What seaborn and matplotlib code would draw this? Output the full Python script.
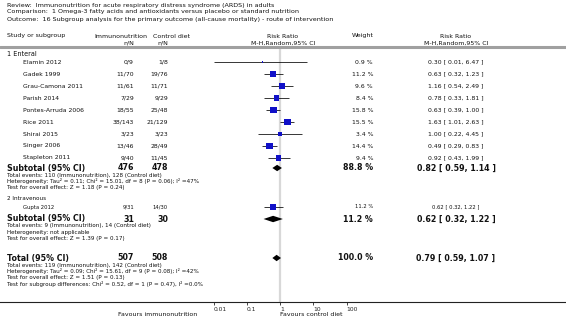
import numpy as np
import pandas as pd
import seaborn as sns
import matplotlib.pyplot as plt
from matplotlib.transforms import blended_transform_factory

sns.set_style("white")
plt.rcParams['font.family'] = ['DejaVu Sans']

# %% data
title_lines = [
    "Review:  Immunonutrition for acute respiratory distress syndrome (ARDS) in adults",
    "Comparison:  1 Omega-3 fatty acids and antioxidants versus placebo or standard nutrition",
    "Outcome:  16 Subgroup analysis for the primary outcome (all-cause mortality) - route of intervention",
]

enteral_studies = ["Elamin 2012", "Gadek 1999", "Grau-Camona 2011", "Parish 2014",
                   "Pontes-Arruda 2006", "Rice 2011", "Shirai 2015", "Singer 2006",
                   "Stapleton 2011"]
enteral_imm = ["0/9", "11/70", "11/61", "7/29", "18/55", "38/143", "3/23", "13/46", "9/40"]
enteral_ctrl = ["1/8", "19/76", "11/71", "9/29", "25/48", "21/129", "3/23", "28/49", "11/45"]
enteral_weight = [0.9, 11.2, 9.6, 8.4, 15.8, 15.5, 3.4, 14.4, 9.4]
enteral_rr = [0.30, 0.63, 1.16, 0.78, 0.63, 1.63, 1.00, 0.49, 0.92]
enteral_lo = [0.01, 0.32, 0.54, 0.33, 0.39, 1.01, 0.22, 0.29, 0.43]
enteral_hi = [6.47, 1.23, 2.49, 1.81, 1.00, 2.63, 4.45, 0.83, 1.99]

iv_studies = ["Gupta 2012"]
iv_imm = ["9/31"]
iv_ctrl = ["14/30"]
iv_weight = [11.2]
iv_rr = [0.62]
iv_lo = [0.32]
iv_hi = [1.22]

# subtotal 1, subtotal 2, total
pooled_label = ["Subtotal (95% CI)", "Subtotal (95% CI)", "Total (95% CI)"]
pooled_imm = [476, 31, 507]
pooled_ctrl = [478, 30, 508]
pooled_weight = [88.8, 11.2, 100.0]
pooled_rr = [0.82, 0.62, 0.79]
pooled_lo = [0.59, 0.32, 0.59]
pooled_hi = [1.14, 1.22, 1.07]

info_enteral = ["Total events: 110 (Immunonutrition), 128 (Control diet)",
                "Heterogeneity: Tau\u00b2 = 0.11; Chi\u00b2 = 15.01, df = 8 (P = 0.06); I\u00b2 =47%",
                "Test for overall effect: Z = 1.18 (P = 0.24)"]
info_iv = ["Total events: 9 (Immunonutrition), 14 (Control diet)",
           "Heterogeneity: not applicable",
           "Test for overall effect: Z = 1.39 (P = 0.17)"]
info_total = ["Total events: 119 (Immunonutrition), 142 (Control diet)",
              "Heterogeneity: Tau\u00b2 = 0.09; Chi\u00b2 = 15.61, df = 9 (P = 0.08); I\u00b2 =42%",
              "Test for overall effect: Z = 1.51 (P = 0.13)",
              "Test for subgroup differences: Chi\u00b2 = 0.52, df = 1 (P = 0.47), I\u00b2 =0.0%"]

ticks = [0.01, 0.1, 1, 10, 100]
tick_labels = ["0.01", "0.1", "1", "10", "100"]

# %% layout (pixels)
W, H = 566, 320
AX_TOP, AX_BOT = 46, 302
X_LEFT, X_1, DEC = 7, 280, 33.25
X_STUDY, X_IMM, X_CTRL, X_W, X_RR = 23, 134, 168, 373, 456

y_sec1 = 54
y_ent = [62 + 12 * i for i in range(len(enteral_studies))]
y_sub1 = y_ent[-1] + 10
y_sec2 = y_sub1 + 32
y_iv = [y_sec2 + 7]
y_sub2 = y_iv[-1] + 12
y_tot = y_sub2 + 39
y_pooled = [y_sub1, y_sub2, y_tot]

fig = plt.figure(figsize=(W / 100, H / 100), dpi=100)
ax = fig.add_axes([0, 1 - AX_BOT / H, 1, (AX_BOT - AX_TOP) / H])
ax.set_xscale("log")
ax.set_xlim(10 ** (-(X_1 / DEC)), 10 ** ((W - X_1) / DEC))
ax.set_ylim(AX_BOT, AX_TOP)

for s in ["top", "left", "right"]:
    ax.spines[s].set_visible(False)
ax.spines["bottom"].set_linewidth(0.8)
ax.spines["bottom"].set_color("#222222")
ax.set_yticks([])
ax.set_xticks(ticks)
ax.set_xticklabels(tick_labels, fontsize=4.3, ha="left", color="#222222")
ax.minorticks_off()
ax.tick_params(axis="x", direction="out", length=2.5, width=0.6, pad=1, bottom=True)

ax.axvline(1, color="#d8d8d8", lw=1.6, zorder=0)
ax.axhline(AX_TOP + 1, color="#a0a0a0", lw=2.2, clip_on=False)

# %% studies
studies = pd.DataFrame({
    "rr": enteral_rr + iv_rr,
    "lo": enteral_lo + iv_lo,
    "hi": enteral_hi + iv_hi,
    "weight": enteral_weight + iv_weight,
    "y": y_ent + y_iv,
})
ax.hlines(studies["y"], studies["lo"], studies["hi"], color="black", lw=0.55, zorder=2)
sns.scatterplot(data=studies, x="rr", y="y", size="weight", sizes=(0.9 * 1.6, 15.8 * 1.6),
                size_norm=(0.9, 15.8), marker="s", color="#1010c8", linewidth=0,
                legend=False, ax=ax, zorder=3)
ax.set_xlabel("")
ax.set_ylabel("")

for lo, rr, hi, y in zip(pooled_lo, pooled_rr, pooled_hi, y_pooled):
    ax.fill([lo, rr, hi, rr], [y, y - 3.2, y, y + 3.2], color="black", lw=0, zorder=3)

# %% text columns
tr = blended_transform_factory(ax.transAxes, ax.transData)


def put(x, y, s, size=4.4, ha="left", weight="normal"):
    ax.text(x / W, y, s, transform=tr, fontsize=size, ha=ha, va="center",
            fontweight=weight, color="#111111", clip_on=False)


def ftext(x, y, s, size=4.5, ha="left"):
    fig.text(x / W, 1 - y / H, s, fontsize=size, ha=ha, va="center", color="#111111")


for i, line in enumerate(title_lines):
    ftext(X_LEFT, 5 + 7 * i, line, size=4.6)

ftext(X_LEFT, 36, "Study or subgroup")
ftext(94, 36, "Immunonutrition")
ftext(X_IMM, 43, "n/N", ha="right")
ftext(153, 36, "Control diet")
ftext(X_CTRL, 43, "n/N", ha="right")
ftext(283, 36, "Risk Ratio", ha="center")
ftext(283, 43, "M-H,Random,95% CI", ha="center")
ftext(352, 36, "Weight")
ftext(X_RR, 36, "Risk Ratio", ha="center")
ftext(X_RR, 43, "M-H,Random,95% CI", ha="center")

put(X_LEFT, y_sec1, "1 Enteral", size=4.7)
put(X_LEFT, y_sec2 - 1, "2 Intravenous", size=4.1)


def study_rows(names, imm, ctrl, w, rr, lo, hi, ys, size):
    for i, y in enumerate(ys):
        put(X_STUDY, y, names[i], size=size)
        put(X_IMM, y, imm[i], size=size, ha="right")
        put(X_CTRL, y, ctrl[i], size=size, ha="right")
        put(X_W, y, f"{w[i]:.1f} %", size=size, ha="right")
        put(X_RR, y, f"{rr[i]:.2f} [ {lo[i]:.2f}, {hi[i]:.2f} ]", size=size, ha="center")


study_rows(enteral_studies, enteral_imm, enteral_ctrl, enteral_weight,
           enteral_rr, enteral_lo, enteral_hi, y_ent, 4.4)
study_rows(iv_studies, iv_imm, iv_ctrl, iv_weight, iv_rr, iv_lo, iv_hi, y_iv, 3.8)

for i, y in enumerate(y_pooled):
    put(X_LEFT, y, pooled_label[i], size=5.7, weight="bold")
    put(X_IMM, y, str(pooled_imm[i]), size=5.7, ha="right", weight="bold")
    put(X_CTRL, y, str(pooled_ctrl[i]), size=5.7, ha="right", weight="bold")
    put(X_W, y, f"{pooled_weight[i]:.1f} %", size=5.7, ha="right", weight="bold")
    put(X_RR, y, f"{pooled_rr[i]:.2f} [ {pooled_lo[i]:.2f}, {pooled_hi[i]:.2f} ]",
        size=5.7, ha="center", weight="bold")

for info, y0 in zip([info_enteral, info_iv, info_total], y_pooled):
    for j, line in enumerate(info):
        put(X_LEFT, y0 + 7 + 6.3 * j, line, size=4.1)

ftext(197, 315, "Favours immunonutrition", ha="right")
ftext(X_1, 315, "Favours control diet")

fig.savefig("out.png", dpi=100)
